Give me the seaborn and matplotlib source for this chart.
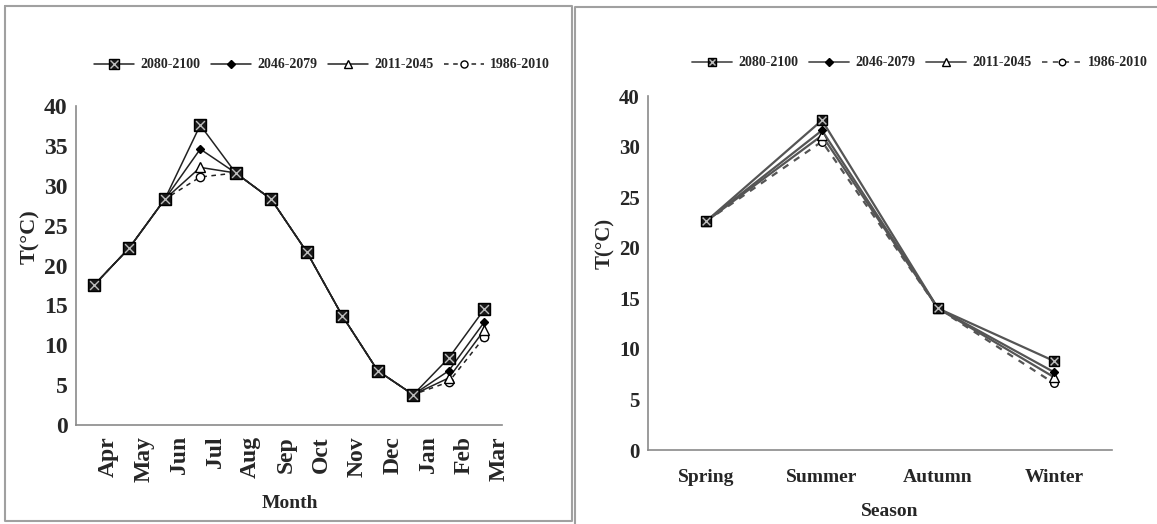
import numpy as np
import pandas as pd
import matplotlib
matplotlib.use("Agg")
import matplotlib.pyplot as plt
import seaborn as sns
from matplotlib.lines import Line2D
from matplotlib.legend_handler import HandlerTuple

# ---------------- data ----------------
months = ["Apr", "May", "Jun", "Jul", "Aug", "Sep", "Oct", "Nov", "Dec", "Jan", "Feb", "Mar"]
t_2080_2100_m = [17.5, 22.2, 28.3, 37.6, 31.6, 28.3, 21.7, 13.7, 6.8, 3.8, 8.4, 14.5]
t_2046_2079_m = [17.5, 22.2, 28.3, 34.6, 31.6, 28.3, 21.7, 13.7, 6.8, 3.8, 6.8, 12.9]
t_2011_2045_m = [17.5, 22.2, 28.3, 32.3, 31.6, 28.3, 21.7, 13.7, 6.8, 3.8, 5.9, 11.9]
t_1986_2010_m = [17.5, 22.2, 28.3, 31.1, 31.6, 28.3, 21.7, 13.7, 6.8, 3.8, 5.4, 11.0]

seasons = ["Spring", "Summer", "Autumn", "Winter"]
t_2080_2100_s = [22.6, 32.6, 14.0, 8.8]
t_2046_2079_s = [22.6, 31.6, 14.0, 7.7]
t_2011_2045_s = [22.6, 31.1, 14.0, 7.2]
t_1986_2010_s = [22.6, 30.5, 14.0, 6.6]

series_names = ["2080-2100", "2046-2079", "2011-2045", "1986-2010"]

left_yticks = [0, 5, 10, 15, 20, 25, 30, 35, 40]
left_yticklabels = ["0", "5", "10", "15", "20", "25", "30", "35", "40"]
right_yticks = [0, 5, 10, 15, 20, 25, 30, 35]
right_yticklabels = ["0", "5", "10", "15", "20", "25", "30", "40"]

# ---------------- style ----------------
sns.set_theme(style="white")
plt.rcParams["font.family"] = ["Liberation Serif", "DejaVu Serif"]
plt.rcParams["font.weight"] = "bold"

W, H = 1157, 524
fig = plt.figure(figsize=(W / 100, H / 100), dpi=100)
fig.patch.set_facecolor("white")


def fx(px):
    return px / W


def fy(py):
    return 1 - py / H


ax1 = fig.add_axes([fx(76), fy(425), fx(502) - fx(76), fy(106) - fy(425)])
ax2 = fig.add_axes([fx(648), fy(450), fx(1112) - fx(648), fy(96) - fy(450)])


def draw(ax, cats, vals, lc, lw, sq, dm, tr, ci):
    x = np.arange(len(cats))
    specs = [
        (series_names[3], vals[3], "o", ci, "white", (0, (3, 3)), 1),
        (series_names[2], vals[2], "^", tr, "white", "-", 2),
        (series_names[1], vals[1], "D", dm, "black", "-", 3),
    ]
    for name, v, mk, ms, mfc, ls, z in specs:
        sns.lineplot(x=x, y=v, ax=ax, color=lc, lw=lw, linestyle=ls, marker=mk,
                     markersize=ms, markerfacecolor=mfc, markeredgecolor="black",
                     markeredgewidth=1.0, zorder=z, legend=False)
    sns.lineplot(x=x, y=vals[0], ax=ax, color=lc, lw=lw, marker="s", markersize=sq,
                 markerfacecolor="#1a1a1a", markeredgecolor="black", markeredgewidth=1.0,
                 zorder=4, legend=False)
    sns.scatterplot(x=x, y=vals[0], ax=ax, marker="x", s=(sq * 0.75) ** 2,
                    color="#bdbdbd", linewidth=1.0, zorder=5, legend=False)


draw(ax1, months,
     [t_2080_2100_m, t_2046_2079_m, t_2011_2045_m, t_1986_2010_m],
     "#222222", 1.1, 8.5, 4.5, 7, 6)
draw(ax2, seasons,
     [t_2080_2100_s, t_2046_2079_s, t_2011_2045_s, t_1986_2010_s],
     "#555555", 1.6, 7.5, 4, 6.5, 5.5)

spine_c = "#8a8a8a"
for ax in (ax1, ax2):
    for s in ("top", "right"):
        ax.spines[s].set_visible(False)
    for s in ("left", "bottom"):
        ax.spines[s].set_color(spine_c)
        ax.spines[s].set_linewidth(1.2)
    ax.set_facecolor("white")
    ax.tick_params(axis="y", direction="out", length=4, width=1, color=spine_c, pad=2)
    ax.tick_params(axis="x", which="both", direction="inout", length=9, width=1, color=spine_c)

# left axes
ax1.set_xlim(-0.5, len(months) - 0.5)
ax1.set_ylim(0, 40)
ax1.set_yticks(left_yticks)
ax1.set_yticklabels(left_yticklabels, fontsize=17, fontweight="bold")
ax1.set_xticks(np.arange(len(months) + 1) - 0.5)
ax1.set_xticklabels([""] * (len(months) + 1))
for i, m in enumerate(months):
    ax1.text(i + 0.42, -0.035, m, transform=ax1.get_xaxis_transform(), rotation=90,
             ha="center", va="top", fontsize=17, fontweight="bold")
ax1.set_xlabel("")
ax1.set_ylabel("")
fig.text(fx(30), fy(237), "T(°C)", rotation=90, ha="center", va="center",
         fontsize=16, fontweight="bold")
fig.text(fx(290), fy(503), "Month", ha="center", va="center", fontsize=14, fontweight="bold")

# right axes
ax2.set_xlim(-0.5, len(seasons) - 0.5)
ax2.set_ylim(0, 35)
ax2.set_yticks(right_yticks)
ax2.set_yticklabels(right_yticklabels, fontsize=15, fontweight="bold")
ax2.set_xticks(np.arange(len(seasons) + 1) - 0.5)
ax2.set_xticklabels([""] * (len(seasons) + 1))
ax2.set_xticks(np.arange(len(seasons)), minor=True)
ax2.set_xticklabels(seasons, minor=True, fontsize=14, fontweight="bold")
ax2.tick_params(axis="x", which="minor", length=0, pad=14)
ax2.set_xlabel("")
ax2.set_ylabel("")
fig.text(fx(605), fy(243), "T(°C)", rotation=90, ha="center", va="center",
         fontsize=15, fontweight="bold")
fig.text(fx(890), fy(512), "Season", ha="center", va="center", fontsize=14, fontweight="bold")


# legends
def legend_handles(lc, sq, dm, tr, ci, lw):
    h1 = (Line2D([], [], color=lc, lw=lw, marker="s", markersize=sq * 0.85,
                 markerfacecolor="#1a1a1a", markeredgecolor="black"),
          Line2D([], [], color="none", marker="x", markersize=sq * 0.6,
                 markeredgecolor="#bdbdbd", markeredgewidth=1.0))
    h2 = Line2D([], [], color=lc, lw=lw, marker="D", markersize=dm,
                markerfacecolor="black", markeredgecolor="black")
    h3 = Line2D([], [], color=lc, lw=lw, marker="^", markersize=tr * 0.85,
                markerfacecolor="white", markeredgecolor="black")
    h4 = Line2D([], [], color=lc, lw=lw, linestyle=(0, (3, 3)), marker="o",
                markersize=ci * 0.85, markerfacecolor="white", markeredgecolor="black")
    return [h1, h2, h3, h4]


for hs, anchor in ((legend_handles("#222222", 8.5, 4.5, 7, 6, 1.1), (fx(322), fy(65))),
                   (legend_handles("#555555", 7.5, 4, 6.5, 5.5, 1.3), (fx(920), fy(63)))):
    fig.legend(hs, series_names, loc="center", bbox_to_anchor=anchor, ncol=4,
               frameon=False, handlelength=2.9, handletextpad=0.45, columnspacing=0.75,
               prop={"family": "Liberation Serif", "weight": "bold", "size": 10},
               handler_map={tuple: HandlerTuple(ndivide=1, pad=0)})

# panel frames
frame_c = "#a0a0a0"
fig.add_artist(Line2D([fx(5), fx(572), fx(572), fx(5), fx(5)],
                      [fy(6), fy(6), fy(521), fy(521), fy(6)],
                      transform=fig.transFigure, color=frame_c, lw=1.5))
fig.add_artist(Line2D([fx(575), fx(575), fx(1157)],
                      [fy(524), fy(7), fy(7)],
                      transform=fig.transFigure, color=frame_c, lw=1.5))

fig.savefig("out.png", dpi=100, facecolor="white")
